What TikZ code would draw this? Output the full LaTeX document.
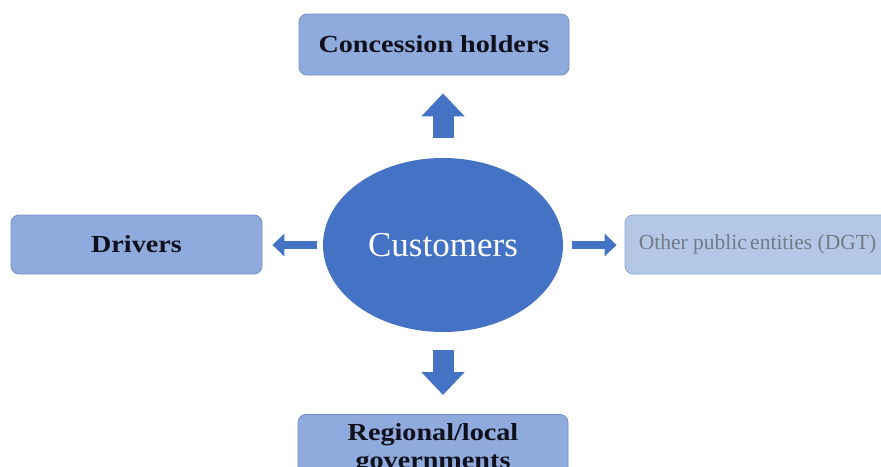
\documentclass[tikz,border=0pt]{standalone}
\usepackage{fontspec}
\setmainfont{Liberation Serif}
\newfontfamily\widefont{Liberation Serif}[FakeStretch=1.15]
\usetikzlibrary{positioning,shapes.geometric,arrows.meta}
\definecolor{midblue}{HTML}{4472C4}
\definecolor{boxblue}{HTML}{8FAADC}
\definecolor{boxedge}{HTML}{7590C4}
\definecolor{paleblue}{HTML}{B4C7E7}
\definecolor{paleedge}{HTML}{8EA6D4}
\definecolor{greytext}{HTML}{737A86}
\definecolor{inktext}{HTML}{10101C}

\begin{document}
\begin{tikzpicture}[x=1pt, y=-1pt,
	bstyle/.style={rectangle, rounded corners=8pt, fill=boxblue, draw=boxedge,
	line width=0.8pt, text=inktext, align=center,
	font=\widefont\bfseries\fontsize{24.5}{28}\selectfont},
	pstyle/.style={bstyle, fill=paleblue, draw=paleedge, text=greytext,
	font=\fontsize{21.5}{24}\selectfont},
	cstyle/.style={ellipse, fill=midblue, inner sep=0pt,
	minimum width=240pt, minimum height=174pt, text=white,
	font=\fontsize{35}{40}\selectfont},
	varrow/.style={draw=midblue, line width=21pt,
	-{Triangle[width=42pt, length=23pt]}},
	harrow/.style={draw=midblue, line width=8pt,
	-{Triangle[width=22pt, length=12pt]}}
	]
	\useasboundingbox (0,0) rectangle (881,466);
	\clip (0,0) rectangle (881,466);
	
	\node[cstyle] (cust) at (443,245) {Customers};
	\node[bstyle, minimum width=270pt, minimum height=61pt] (conc) at (434,44.5) {Concession holders};
	\node[bstyle, minimum width=251pt, minimum height=59pt] (drv) at (136.5,244.5) {Drivers};
	\node[pstyle, minimum width=265pt, minimum height=59pt] (dgt) at (757.5,244.5) {Other public\hspace{-2pt} entities (DGT)};
	\node[bstyle, minimum width=270pt, inner ysep=9pt, anchor=north] (reg) at (433,414) {Regional/local\\governments};
	
	\draw[varrow, shorten <=20pt, shorten >=18pt] (cust.north) -- (cust.north |- conc.south);
	\draw[varrow, shorten <=18pt, shorten >=19pt] (cust.south) -- (cust.south |- reg.north);
	\draw[harrow, shorten <=6pt, shorten >=10pt] (cust.west) -- (cust.west -| drv.east);
	\draw[harrow, shorten <=9pt, shorten >=8pt] (cust.east) -- (cust.east -| dgt.west);
\end{tikzpicture}
\end{document}
